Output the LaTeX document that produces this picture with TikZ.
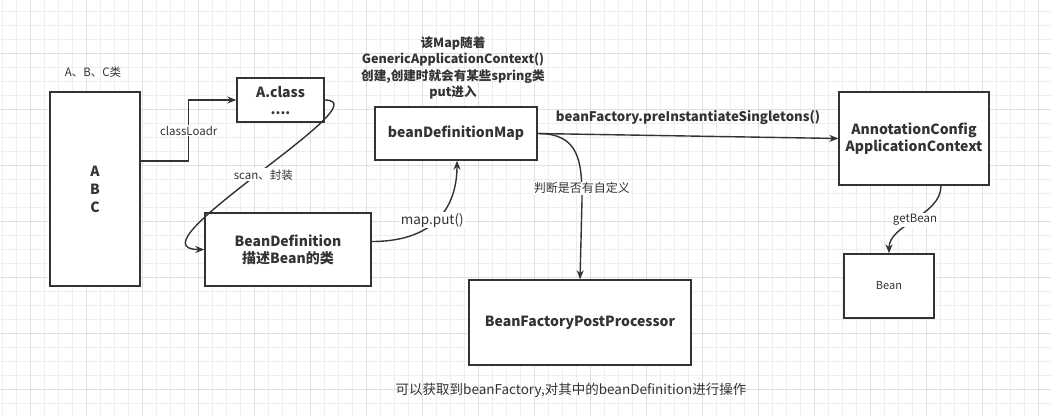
\documentclass[tikz,border=0pt]{standalone}
\usepackage{fontspec}
\setmainfont{Noto Sans CJK SC}
\usetikzlibrary{arrows.meta,calc}
\definecolor{ink}{HTML}{333333}
\definecolor{gridmin}{HTML}{EEEEEE}
\definecolor{gridmaj}{HTML}{DFDFDF}
\tikzset{
  box/.style={draw=ink, line width=1.4pt, fill=white, text=ink, font=\fontsize{14}{17}\selectfont\bfseries, align=center, inner sep=0pt},
  lbl/.style={fill=white, text=ink, font=\fontsize{11.5}{14}\selectfont, inner sep=1pt},
  conn/.style={draw=ink, line width=1.4pt},
  arr/.style={conn, -{Stealth[length=9pt,width=7pt]}},
  note/.style={text=ink, align=center},
}
\begin{document}
\begin{tikzpicture}[x=1pt,y=-1pt]
\useasboundingbox (0,0) rectangle (1051,416);
\fill[white] (0,0) rectangle (1051,416);
% grid
\foreach \i in {0,...,75} \draw[gridmin, line width=0.8pt] (2.7+14*\i,0) -- (2.7+14*\i,416);
\foreach \i in {0,...,29} \draw[gridmin, line width=0.8pt] (0,11+14*\i) -- (1051,11+14*\i);
\foreach \i in {0,...,18} \draw[gridmaj, line width=0.8pt] (30.7+56*\i,0) -- (30.7+56*\i,416);
\foreach \i in {0,...,6} \draw[gridmaj, line width=0.8pt] (0,53+56*\i) -- (1051,53+56*\i);

% nodes
\node[box, minimum width=90pt, minimum height=194pt, font=\fontsize{14}{18}\selectfont\bfseries] (abc) at (95,189) {A\\B\\C};
\node[note, font=\fontsize{11.5}{14}\selectfont] (abclbl) at (93,72) {A、B、C类};
\node[box, minimum width=87pt, minimum height=44pt] (aclass) at (280.5,100) {A.class\\....};
\node[box, minimum width=166pt, minimum height=73pt] (bd) at (288,249.5) {BeanDefinition\\描述Bean的类};
\node[box, minimum width=162pt, minimum height=53pt] (bdm) at (456,133.5) {beanDefinitionMap};
\node[note, font=\fontsize{12.6}{16.5}\selectfont\bfseries] (mapnote) at (453,68) {该Map随着\\GenericApplicationContext()\\创建,创建时就会有某些spring类\\put进入};
\node[box, minimum width=150pt, minimum height=93pt] (ac) at (914,138.5) {AnnotationConfig\\ApplicationContext};
\node[box, minimum width=90pt, minimum height=64pt, font=\fontsize{11}{14}\selectfont] (bean) at (889,286) {Bean};
\node[box, minimum width=222pt, minimum height=85pt] (bfpp) at (580,322.5) {BeanFactoryPostProcessor};
\node[note, font=\fontsize{13.5}{16}\selectfont] (bottomnote) at (571,390) {可以获取到beanFactory,对其中的beanDefinition进行操作};

% connectors
\draw[arr] ([yshift=28pt]abc.east) -- ++(48,0) |- (aclass.west) node[lbl, pos=0.25] {classLoadr};
\draw[arr] (aclass.east) .. controls +(61,0) and +(-80,0) .. (bd.west) node[lbl, pos=0.5, xshift=6pt] {scan、封装};
\draw[arr] ([yshift=8pt]bd.east) .. controls +(69,0) and +(0,40) .. ([xshift=1pt]bdm.south) node[lbl, pos=0.5, xshift=-8pt, yshift=-4pt, font=\fontsize{13.5}{16}\selectfont] {map.put()};
\draw[arr] (bdm.east) -- (ac.west) node[midway, above=7pt, note, font=\fontsize{13.2}{16}\selectfont\bfseries] {beanFactory.preInstantiateSingletons()};
\draw[arr] (bdm.east) .. controls +(41,0) and +(0,-40) .. (582,200) node[lbl, pos=0.9, font=\fontsize{12}{14}\selectfont] {判断是否有自定义} -- (bfpp.north);
\draw[arr] ([xshift=27pt]ac.south) .. controls +(0,30) and +(0,-29) .. (bean.north) node[lbl, pos=0.5] {getBean};
\end{tikzpicture}
\end{document}
